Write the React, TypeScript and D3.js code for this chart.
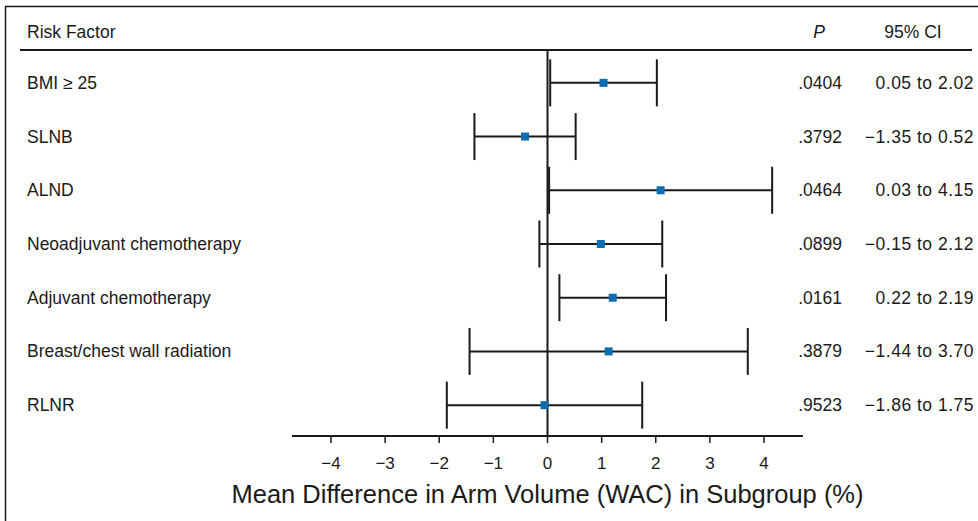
import React from 'react';
import * as d3 from 'd3';

// --- data ---
const factors = [
  'BMI \u2265 25',
  'SLNB',
  'ALND',
  'Neoadjuvant chemotherapy',
  'Adjuvant chemotherapy',
  'Breast/chest wall radiation',
  'RLNR',
];
const means = [1.035, -0.415, 2.09, 0.985, 1.205, 1.13, -0.055];
const lower = [0.05, -1.35, 0.03, -0.15, 0.22, -1.44, -1.86];
const upper = [2.02, 0.52, 4.15, 2.12, 2.19, 3.7, 1.75];
const pValues = ['.0404', '.3792', '.0464', '.0899', '.0161', '.3879', '.9523'];
const ciLabels = [
  '0.05 to 2.02',
  '\u22121.35 to 0.52',
  '0.03 to 4.15',
  '\u22120.15 to 2.12',
  '0.22 to 2.19',
  '\u22121.44 to 3.70',
  '\u22121.86 to 1.75',
];
const xTicks = [-4, -3, -2, -1, 0, 1, 2, 3, 4];

const W = 978;
const H = 521;
const font = '"Liberation Sans", Arial, Helvetica, sans-serif';
const markerColor = '#0d6db3';
const ink = '#1a1a1a';

export default function App() {
  const x = d3.scaleLinear().domain([-4.72, 4.72]).range([292, 803]);
  const y = d3.scaleBand<number>().domain(factors.map((_, i) => i)).range([56, 432]);
  const axisY = 436;
  const capHalf = 23.5;
  const fs = 17.5;
  const fmt = (v: number) => (v < 0 ? '\u2212' + Math.abs(v) : String(v));

  return (
    <svg width={W} height={H} style={{ position: 'absolute', left: 0, top: 0, background: '#fff' }}
      fontFamily={font}>
      {/* frame (left + top only) */}
      <line x1={5.5} x2={5.5} y1={6} y2={H} stroke={ink} strokeWidth={1.5} />
      <line x1={5} x2={W} y1={6.5} y2={6.5} stroke={ink} strokeWidth={1.5} />

      {/* header */}
      <text x={27} y={37.5} fontSize={fs} fill={ink}>Risk Factor</text>
      <text x={819} y={37.5} fontSize={fs} fill={ink} fontStyle="italic" textAnchor="middle">P</text>
      <text x={913} y={37.5} fontSize={fs} fill={ink} textAnchor="middle">95% CI</text>
      <line x1={20} x2={972} y1={50} y2={50} stroke={ink} strokeWidth={2} />

      {/* zero reference line */}
      <line x1={x(0)} x2={x(0)} y1={50} y2={axisY} stroke={ink} strokeWidth={2} />

      {factors.map((f, i) => {
        const cy = (y(i) as number) + y.bandwidth() / 2;
        return (
          <g key={f}>
            <text x={27} y={cy + 6} fontSize={fs} fill={ink}>{f}</text>
            <line x1={x(lower[i])} x2={x(upper[i])} y1={cy} y2={cy} stroke={ink} strokeWidth={2} />
            <line x1={x(lower[i])} x2={x(lower[i])} y1={cy - capHalf} y2={cy + capHalf} stroke={ink} strokeWidth={2} />
            <line x1={x(upper[i])} x2={x(upper[i])} y1={cy - capHalf} y2={cy + capHalf} stroke={ink} strokeWidth={2} />
            <rect x={x(means[i]) - 4} y={cy - 4} width={8} height={8} fill={markerColor} />
            <text x={842} y={cy + 6} fontSize={fs} fill={ink} textAnchor="end">{pValues[i]}</text>
            <text x={974} y={cy + 6} fontSize={fs} fill={ink} textAnchor="end" letterSpacing={0.5}>{ciLabels[i]}</text>
          </g>
        );
      })}

      {/* x axis */}
      <line x1={x.range()[0]} x2={x.range()[1]} y1={axisY} y2={axisY} stroke={ink} strokeWidth={2} />
      {xTicks.map((t) => (
        <g key={t}>
          <line x1={x(t)} x2={x(t)} y1={axisY} y2={axisY + 7} stroke={ink} strokeWidth={1.5} />
          <text x={x(t)} y={axisY + 33} fontSize={17} fill={ink} textAnchor="middle">{fmt(t)}</text>
        </g>
      ))}
      <text x={x(0)} y={503} fontSize={25.5} fill={ink} textAnchor="middle">
        Mean Difference in Arm Volume (WAC) in Subgroup (%)
      </text>
    </svg>
  );
}
